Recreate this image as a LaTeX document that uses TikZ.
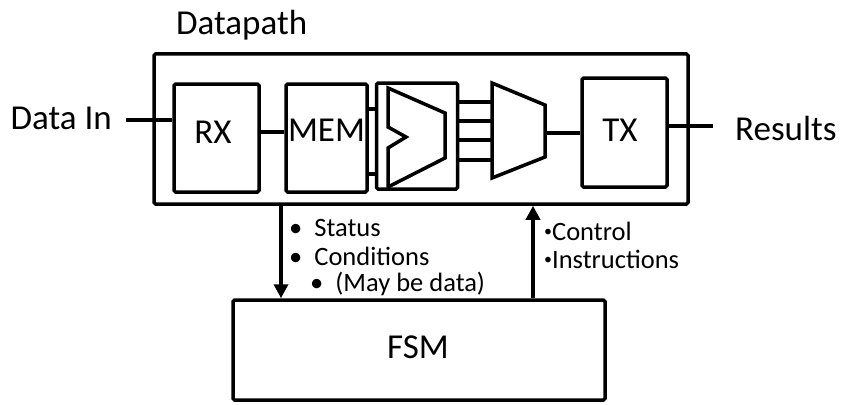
\documentclass[tikz,border=0pt]{standalone}
\usepackage{fontspec}
\setmainfont{Carlito}
\usetikzlibrary{arrows.meta}
\newcommand{\smbul}{\raisebox{0.12em}{\scalebox{0.6}{•}}}
\begin{document}
\begin{tikzpicture}[x=1pt,y=-1pt,
  blk/.style={draw,line width=3.5pt,rounded corners=1.5pt,inner sep=0pt},
  wire/.style={line width=3.5pt},
  arr/.style={line width=3.5pt,-{Triangle[length=14pt,width=14pt]}},
  lbl/.style={font=\fontsize{35}{38}\selectfont,inner sep=0pt},
  sm/.style={font=\fontsize{26.5}{30}\selectfont,inner sep=0pt,anchor=west}]
\useasboundingbox (0,0) rectangle (845,404);
\node[blk,minimum width=534pt,minimum height=150pt] (dp) at (421,129) {};
\node[lbl,anchor=south west] (dpl) at (176,40) {Datapath};
\node[blk,minimum width=85pt,minimum height=108pt] (rx) at (216.5,138) {};
\node[lbl] at (213,132) {RX};
\node[blk,minimum width=81pt,minimum height=108pt] (mem) at (326.5,138) {};
\node[lbl] at (326.5,130) {MEM};
\node[blk,minimum width=81pt,minimum height=106pt] (alub) at (417,136) {};
\node[blk,minimum width=85pt,minimum height=109pt] (tx) at (624.5,132.5) {};
\node[lbl] at (620,130) {TX};
\node[blk,minimum width=372pt,minimum height=100pt] (fsm) at (419,350) {};
\node[lbl] at (418,347) {FSM};
\node[lbl,anchor=east] (din) at (112,118) {Data In};
\node[lbl,anchor=west] (res) at (735,128) {Results};
\coordinate (dinE) at (126,120);
\coordinate (resW) at (713,126);
\draw[wire] (dinE) -- (rx.west |- dinE);
\draw[wire] (rx.east |- 0,132) -- (mem.west |- 0,132);
\draw[wire] (mem.east |- 0,109) -- (alub.west |- 0,109);
\draw[wire] (mem.east |- 0,174) -- (alub.west |- 0,174);
% ALU
\draw[line width=3.5pt,line join=miter] (388,88) -- (445,113) -- (445,158) -- (388,187) -- (388,148) -- (406,137) -- (388,127) -- cycle;
% mux
\coordinate (muxo) at (545,133);
\draw[line width=3.5pt,line join=miter] (492,83) -- (545,105) -- (545,157) -- (492,178) -- cycle;
\foreach \yy in {102,121,140,160} \draw[wire] (alub.east |- 0,\yy) -- (492,\yy);
\draw[wire] (muxo) -- (tx.west |- muxo);
\draw[wire] (tx.east |- resW) -- (resW);
\draw[arr] (dp.south -| 281,0) -- (fsm.north -| 281,0);
\draw[arr] (fsm.north -| 533,0) -- (dp.south -| 533,0);
\node[sm] at (289,228) {•\hspace{12pt}Status};
\node[sm] at (289,256) {•\hspace{12pt}Conditions};
\node[sm] at (310,284) {•\hspace{12pt}(May be data)};
\node[sm] at (544,231) {\smbul Control};
\node[sm] at (544,259) {\smbul Instructions};
\end{tikzpicture}
\end{document}
